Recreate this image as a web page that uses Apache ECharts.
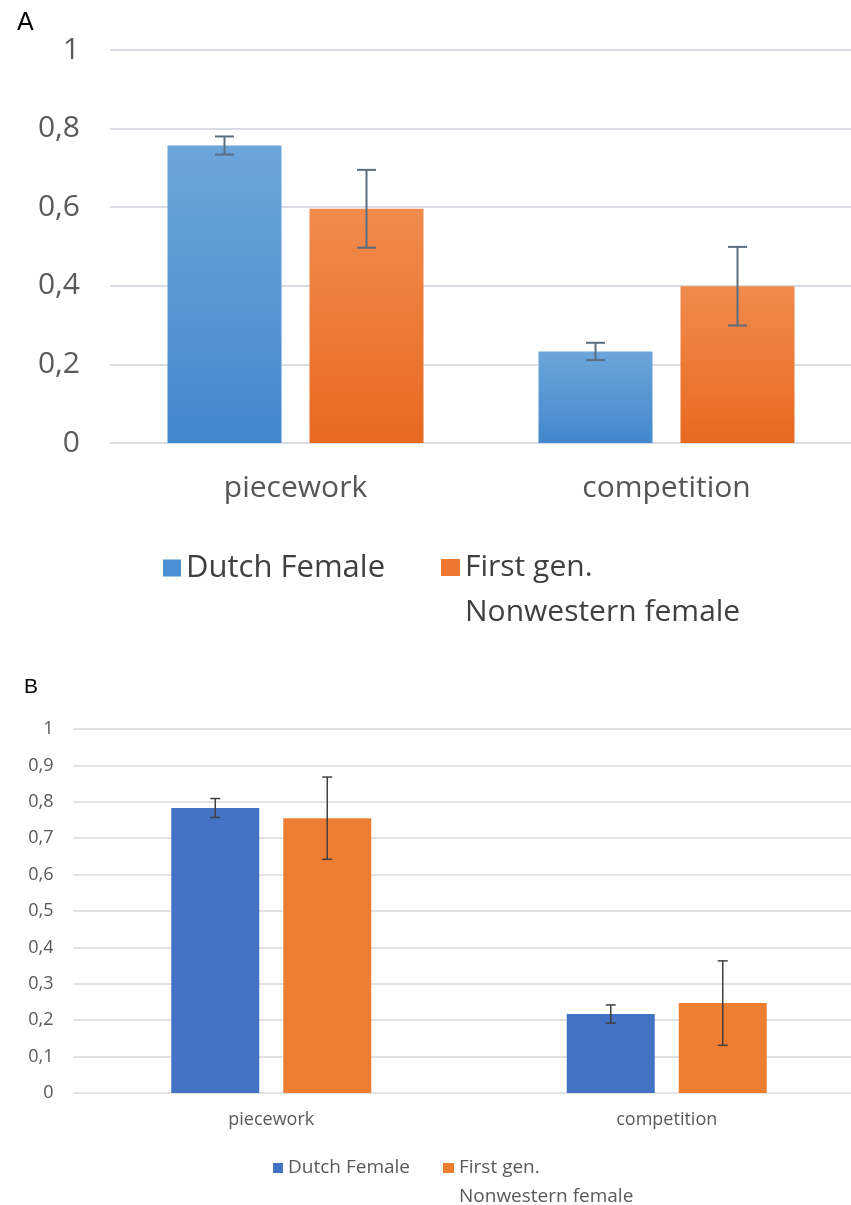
<!DOCTYPE html>
<html>
<head>
<meta charset="utf-8">
<script src="https://cdn.jsdelivr.net/npm/echarts@6/dist/echarts.min.js"></script>
<style>
html,body{margin:0;padding:0;background:#fff;}
#c{width:851px;height:1205px;}
</style>
</head>
<body>
<div id="c"></div>
<script>
// ---- data ----
var categories = ['piecework', 'competition'];
var seriesNames = ['Dutch Female', 'First gen. Nonwestern female'];
var legendLabels = ['Dutch Female', 'First gen.\nNonwestern female'];

// Panel A
var aDutch = [0.757, 0.233];
var aDutchErr = [0.023, 0.022];
var aFirst = [0.596, 0.399];
var aFirstErr = [0.099, 0.1];

// Panel B
var bDutch = [0.783, 0.217];
var bDutchErr = [0.026, 0.025];
var bFirst = [0.755, 0.247];
var bFirstErr = [0.113, 0.116];

var yTicksA = [0, 0.2, 0.4, 0.6, 0.8, 1];
var yTicksB = [0, 0.1, 0.2, 0.3, 0.4, 0.5, 0.6, 0.7, 0.8, 0.9, 1];

// ---- layout / style ----
var FONT = '"Open Sans", "Noto Sans", sans-serif';
var A_BAR_W = 114, A_GAP = 28;
var B_BAR_W = 88, B_GAP = 24;

function fmt(v) { return String(v).replace('.', ','); }
// leading blank line keeps the first text line level with the legend icon
function legendText(s) { return s.indexOf('\n') >= 0 ? ' \n' + s : s; }

function errData(vals, errs) {
  return vals.map(function (v, i) { return [i, v - errs[i], v + errs[i]]; });
}

function errSeries(idx, vals, errs, sign, barW, gap, color, lw, cap) {
  return {
    type: 'custom',
    xAxisIndex: idx, yAxisIndex: idx,
    silent: true,
    z: 10,
    encode: { x: 0, y: [1, 2] },
    data: errData(vals, errs),
    renderItem: function (params, api) {
      var cat = api.value(0);
      var lo = api.coord([cat, api.value(1)]);
      var hi = api.coord([cat, api.value(2)]);
      var x = lo[0] + sign * (barW + gap) / 2;
      var st = { stroke: color, lineWidth: lw };
      return {
        type: 'group',
        children: [
          { type: 'line', shape: { x1: x, y1: lo[1], x2: x, y2: hi[1] }, style: st },
          { type: 'line', shape: { x1: x - cap / 2, y1: hi[1], x2: x + cap / 2, y2: hi[1] }, style: st },
          { type: 'line', shape: { x1: x - cap / 2, y1: lo[1], x2: x + cap / 2, y2: lo[1] }, style: st }
        ]
      };
    }
  };
}

var gradBlue = new echarts.graphic.LinearGradient(0, 0, 0, 1, [
  { offset: 0, color: '#6ca5da' }, { offset: 1, color: '#4288cc' }
]);
var gradOrange = new echarts.graphic.LinearGradient(0, 0, 0, 1, [
  { offset: 0, color: '#f08b4d' }, { offset: 1, color: '#e8691f' }
]);

var option = {
  animation: false,
  backgroundColor: '#ffffff',
  title: [
    { text: 'A', left: 17, top: 11, padding: 0,
      textStyle: { fontFamily: '"Liberation Sans", Arial, sans-serif', fontSize: 25, fontWeight: 'normal', color: '#000', lineHeight: 25 } },
    { text: 'B', left: 24, top: 677, padding: 0,
      textStyle: { fontFamily: '"Liberation Sans", Arial, sans-serif', fontSize: 21, fontWeight: 'normal', color: '#000', lineHeight: 21 } }
  ],
  legend: [
    { left: 163, top: 550, padding: 0, itemWidth: 18, itemHeight: 17, icon: 'rect',
      data: [{ name: seriesNames[0], itemStyle: { color: '#4a90d2' } }],
      formatter: function () { return legendText(legendLabels[0]); },
      textStyle: { fontFamily: FONT, fontSize: 31, color: '#404040', lineHeight: 36 } },
    { left: 441, top: 500, padding: 0, itemWidth: 19, itemHeight: 17, icon: 'rect',
      data: [{ name: seriesNames[1], itemStyle: { color: '#ed7731' } }],
      formatter: function () { return legendText(legendLabels[1]); },
      textStyle: { fontFamily: FONT, fontSize: 30, color: '#404040', lineHeight: 45 } },
    { left: 273, top: 1153.5, padding: 0, itemWidth: 10, itemHeight: 10, icon: 'rect',
      data: [{ name: seriesNames[0] + ' ', itemStyle: { color: '#4472c4' } }],
      formatter: function () { return legendText(legendLabels[0]); },
      textStyle: { fontFamily: FONT, fontSize: 19, color: '#595959', lineHeight: 29 } },
    { left: 443, top: 1124.5, padding: 0, itemWidth: 11, itemHeight: 10, icon: 'rect',
      data: [{ name: seriesNames[1] + ' ', itemStyle: { color: '#ed7d31' } }],
      formatter: function () { return legendText(legendLabels[1]); },
      textStyle: { fontFamily: FONT, fontSize: 19, color: '#595959', lineHeight: 29 } }
  ],
  grid: [
    { left: 110, width: 742, top: 50, height: 393, containLabel: false, outerBoundsMode: 'none' },
    { left: 73.5, width: 791, top: 729, height: 364, containLabel: false, outerBoundsMode: 'none' }
  ],
  xAxis: [
    { type: 'category', gridIndex: 0, data: categories,
      axisLine: { show: false }, axisTick: { show: false },
      axisLabel: { margin: 29, fontFamily: FONT, fontSize: 30, color: '#555', lineHeight: 32 } },
    { type: 'category', gridIndex: 1, data: categories,
      axisLine: { show: false }, axisTick: { show: false },
      axisLabel: { margin: 17, fontFamily: FONT, fontSize: 18, color: '#595959', lineHeight: 20 } }
  ],
  yAxis: [
    { type: 'value', gridIndex: 0, min: yTicksA[0], max: yTicksA[yTicksA.length - 1], interval: 0.2,
      axisLine: { show: false }, axisTick: { show: false },
      splitLine: { lineStyle: { color: '#d9dde3', width: 2 } },
      axisLabel: { margin: 30, fontFamily: FONT, fontSize: 30, color: '#5a5a5a', formatter: fmt } },
    { type: 'value', gridIndex: 1, min: yTicksB[0], max: yTicksB[yTicksB.length - 1], interval: 0.1,
      axisLine: { show: false }, axisTick: { show: false },
      splitLine: { lineStyle: { color: '#d9d9d9', width: 1.5 } },
      axisLabel: { margin: 20, fontFamily: FONT, fontSize: 18, color: '#595959', formatter: fmt } }
  ],
  series: [
    { name: seriesNames[0], type: 'bar', xAxisIndex: 0, yAxisIndex: 0, data: aDutch,
      barWidth: A_BAR_W, barGap: (A_GAP / A_BAR_W * 100) + '%', itemStyle: { color: gradBlue } },
    { name: seriesNames[1], type: 'bar', xAxisIndex: 0, yAxisIndex: 0, data: aFirst,
      barWidth: A_BAR_W, barGap: (A_GAP / A_BAR_W * 100) + '%', itemStyle: { color: gradOrange } },
    { name: seriesNames[0] + ' ', type: 'bar', xAxisIndex: 1, yAxisIndex: 1, data: bDutch,
      barWidth: B_BAR_W, barGap: (B_GAP / B_BAR_W * 100) + '%', itemStyle: { color: '#4472c4' } },
    { name: seriesNames[1] + ' ', type: 'bar', xAxisIndex: 1, yAxisIndex: 1, data: bFirst,
      barWidth: B_BAR_W, barGap: (B_GAP / B_BAR_W * 100) + '%', itemStyle: { color: '#ed7d31' } },
    errSeries(0, aDutch, aDutchErr, -1, A_BAR_W, A_GAP, '#5b6d80', 2, 19),
    errSeries(0, aFirst, aFirstErr, 1, A_BAR_W, A_GAP, '#5b6d80', 2, 19),
    errSeries(1, bDutch, bDutchErr, -1, B_BAR_W, B_GAP, '#404040', 1.5, 10),
    errSeries(1, bFirst, bFirstErr, 1, B_BAR_W, B_GAP, '#404040', 1.5, 10)
  ]
};

var chart = echarts.init(document.getElementById('c'), null, { renderer: 'canvas' });
chart.setOption(option);
</script>
</body>
</html>
